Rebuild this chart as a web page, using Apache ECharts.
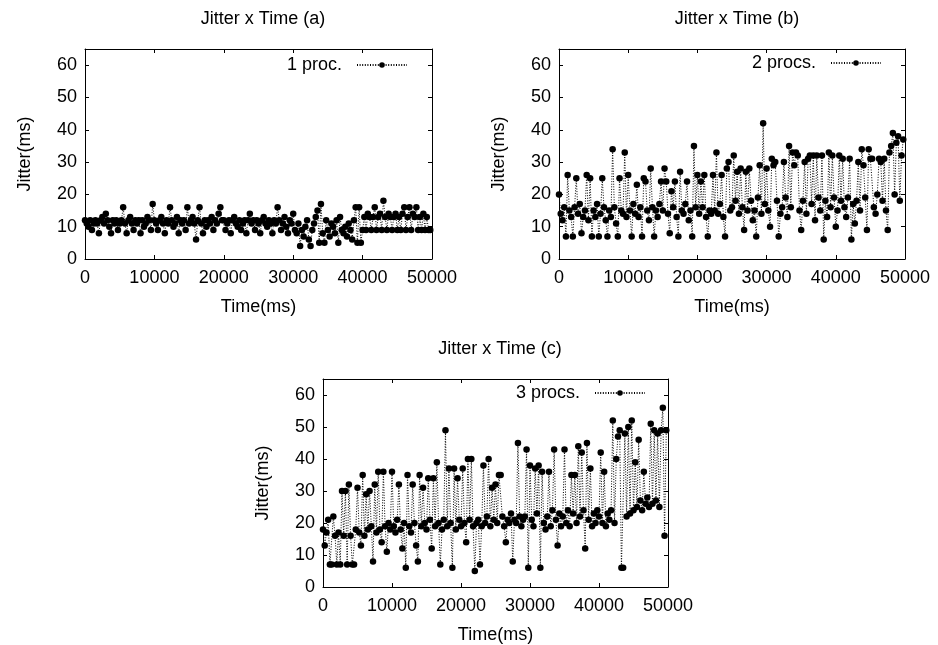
<!DOCTYPE html>
<html><head><meta charset="utf-8">
<script src="https://cdn.jsdelivr.net/npm/echarts@6/dist/echarts.min.js"></script>
<style>html,body{margin:0;padding:0;background:#fff}#c{width:938px;height:645px}</style>
</head><body><div id="c"></div>
<script>
// ---- data ----
const timesMs = [
0,250,500,750,1000,1250,1500,1750,2000,2250,
2500,2750,3000,3250,3500,3750,4000,4250,4500,4750,
5000,5250,5500,5750,6000,6250,6500,6750,7000,7250,
7500,7750,8000,8250,8500,8750,9000,9250,9500,9750,
10000,10250,10500,10750,11000,11250,11500,11750,12000,12250,
12500,12750,13000,13250,13500,13750,14000,14250,14500,14750,
15000,15250,15500,15750,16000,16250,16500,16750,17000,17250,
17500,17750,18000,18250,18500,18750,19000,19250,19500,19750,
20000,20250,20500,20750,21000,21250,21500,21750,22000,22250,
22500,22750,23000,23250,23500,23750,24000,24250,24500,24750,
25000,25250,25500,25750,26000,26250,26500,26750,27000,27250,
27500,27750,28000,28250,28500,28750,29000,29250,29500,29750,
30000,30250,30500,30750,31000,31250,31500,31750,32000,32250,
32500,32750,33000,33250,33500,33750,34000,34250,34500,34750,
35000,35250,35500,35750,36000,36250,36500,36750,37000,37250,
37500,37750,38000,38250,38500,38750,39000,39250,39500,39750,
40000,40250,40500,40750,41000,41250,41500,41750,42000,42250,
42500,42750,43000,43250,43500,43750,44000,44250,44500,44750,
45000,45250,45500,45750,46000,46250,46500,46750,47000,47250,
47500,47750,48000,48250,48500,48750,49000,49250,49500,49750
];
const jitter1proc = [
12,11,10,12,9,11,12,11,8,12, 13,11,14,12,10,8,12,11,12,9,
11,12,16,11,8,12,13,11,9,12, 11,12,8,12,10,11,13,12,9,17,
12,11,9,12,13,11,8,12,11,16, 12,10,11,13,8,12,11,12,9,16,
11,12,13,11,6,12,16,11,8,12, 10,12,11,13,9,12,11,14,16,12,
12,9,11,12,8,12,13,11,10,12, 9,11,12,8,12,14,11,12,9,12,
11,8,12,13,11,10,12,11,8,12, 11,16,12,9,11,13,10,8,12,11,
14,9,8,11,4,9,7,10,12,6, 4,9,11,13,15,5,17,8,5,12,
9,7,11,10,8,12,5,13,9,8, 10,7,11,9,6,12,16,5,16,5,
9,13,9,14,13,9,13,16,9,13, 14,9,18,13,9,14,13,9,13,14,
9,13,9,14,16,9,13,16,9,14, 13,16,9,13,9,14,9,13,9,9
];
const jitter2procs = [
20,14,12,16,7,26,15,13,7,16, 25,14,17,8,13,15,26,12,25,7,
15,13,17,7,14,25,16,12,7,15, 13,34,16,11,7,25,15,14,33,13,
26,15,7,17,14,23,13,16,7,25, 24,15,12,28,16,7,15,13,17,24,
15,28,24,14,8,21,16,24,13,7, 27,15,14,17,24,12,15,7,35,16,
26,14,24,16,26,13,7,15,14,26, 15,33,14,17,26,13,7,28,30,15,
16,32,18,27,14,28,16,9,27,15, 28,18,12,15,7,19,29,14,42,17,
28,15,10,31,29,30,18,7,14,16, 30,19,13,35,16,33,29,33,32,15,
9,18,30,14,31,32,17,32,12,32, 19,15,32,6,18,13,33,16,32,19,
10,15,32,18,31,16,13,19,31,6, 17,11,18,30,15,34,29,19,9,34,
31,31,16,14,20,31,30,18,31,15, 9,33,35,39,20,36,38,18,32,37
];
const jitter3procs = [
18,13,17,21,7,7,22,16,7,17, 7,30,16,30,7,32,16,7,7,18,
31,17,13,35,16,29,18,30,19,8, 32,17,36,18,14,36,19,11,20,18,
36,19,17,21,32,18,12,20,6,35, 19,17,32,20,13,8,35,19,31,20,
18,34,21,12,34,19,39,20,7,18, 21,49,19,37,20,6,37,18,34,21,
19,37,20,14,40,21,40,19,5,20, 21,7,19,38,20,22,40,19,31,21,
32,20,35,35,22,19,14,21,20,23, 8,21,20,45,22,19,21,22,43,6,
38,21,19,37,23,38,6,36,20,18, 22,36,19,24,43,21,13,23,19,22,
43,20,24,19,35,23,35,20,44,22, 42,24,12,45,21,37,19,23,20,24,
22,42,20,36,19,23,21,24,52,20, 40,47,49,6,6,48,22,50,23,52,
24,39,25,46,27,24,36,26,28,25, 51,26,49,27,48,25,49,56,16,49
];
const seriesNames = ['1 proc.', '2 procs.', '3 procs.'];
const panelTitles = ['Jitter x Time (a)', 'Jitter x Time (b)', 'Jitter x Time (c)'];
const xAxisName = 'Time(ms)';
const yAxisName = 'Jitter(ms)';
const xRange = [0, 50000], xStep = 10000;
const yRange = [0, 65], yStep = 10;

// ---- layout ----
const FONT = "'Liberation Sans', Arial, sans-serif";
const FS = 18;
const grids = [
  {left: 85, top: 49, width: 347, height: 210},
  {left: 559, top: 49, width: 346, height: 210},
  {left: 323, top: 379, width: 345, height: 208}
];
const titlePos = [{x: 258, y: 5}, {x: 732, y: 5}, {x: 495, y: 335}];
const legendPos = [{right: 530, top: 56}, {right: 56, top: 54}, {right: 292, top: 384}];
const datasets = [jitter1proc, jitter2procs, jitter3procs];

const xAxes = [], yAxes = [], series = [], titles = [], legends = [];
grids.forEach((g, i) => {
  const baseX = {gridIndex: i, type: 'value', min: xRange[0], max: xRange[1], interval: xStep,
    axisLine: {show: true, onZero: false, lineStyle: {color: '#000', width: 1}},
    axisTick: {show: true, inside: true, length: 4, lineStyle: {color: '#000'}},
    splitLine: {show: false}};
  xAxes.push(Object.assign({}, baseX, {position: 'bottom', name: xAxisName, nameLocation: 'middle', nameGap: 39,
    nameTextStyle: {fontFamily: FONT, fontSize: FS, color: '#000'},
    axisLabel: {show: true, margin: 10, fontFamily: FONT, fontSize: FS, color: '#000',
      formatter: v => String(v)}}));
  xAxes.push(Object.assign({}, baseX, {position: 'top', axisLabel: {show: false}}));
  const baseY = {gridIndex: i, type: 'value', min: yRange[0], max: yRange[1], interval: yStep,
    axisLine: {show: true, onZero: false, lineStyle: {color: '#000', width: 1}},
    axisTick: {show: true, inside: true, length: 4, lineStyle: {color: '#000'}},
    splitLine: {show: false}};
  yAxes.push(Object.assign({}, baseY, {position: 'left', name: yAxisName, nameLocation: 'middle', nameGap: 51,
    nameRotate: 90,
    nameTextStyle: {fontFamily: FONT, fontSize: FS, color: '#000'},
    axisLabel: {show: true, margin: 8, fontFamily: FONT, fontSize: FS, color: '#000', showMaxLabel: false,
      formatter: v => (v % 10 === 0 ? String(v) : '')}}));
  yAxes.push(Object.assign({}, baseY, {position: 'right', axisLabel: {show: false}}));
  series.push({
    name: seriesNames[i], type: 'line', xAxisIndex: 2 * i, yAxisIndex: 2 * i,
    data: timesMs.map((t, k) => [t, datasets[i][k]]),
    symbol: 'circle', symbolSize: 6.5, showSymbol: true, showAllSymbol: true,
    itemStyle: {color: '#000'},
    lineStyle: {color: '#000', width: 1, type: [1, 1.6]},
    emphasis: {disabled: true}, animation: false, clip: true
  });
  titles.push({text: panelTitles[i], left: titlePos[i].x, top: titlePos[i].y, textAlign: 'center',
    textStyle: {fontFamily: FONT, fontSize: FS, fontWeight: 'normal', color: '#000'}});
  legends.push({data: [seriesNames[i]], right: legendPos[i].right, top: legendPos[i].top, align: 'right',
    orient: 'horizontal', padding: 0, itemWidth: 50, itemHeight: 7, selectedMode: false,
    formatter: n => n + '  ',
    textStyle: {fontFamily: FONT, fontSize: FS, color: '#000'}});
});

const chart = echarts.init(document.getElementById('c'), null, {renderer: 'canvas'});
chart.setOption({
  animation: false,
  backgroundColor: '#fff',
  title: titles,
  legend: legends,
  grid: grids.map(g => Object.assign({containLabel: false, show: false}, g)),
  xAxis: xAxes,
  yAxis: yAxes,
  series: series
});
</script></body></html>
